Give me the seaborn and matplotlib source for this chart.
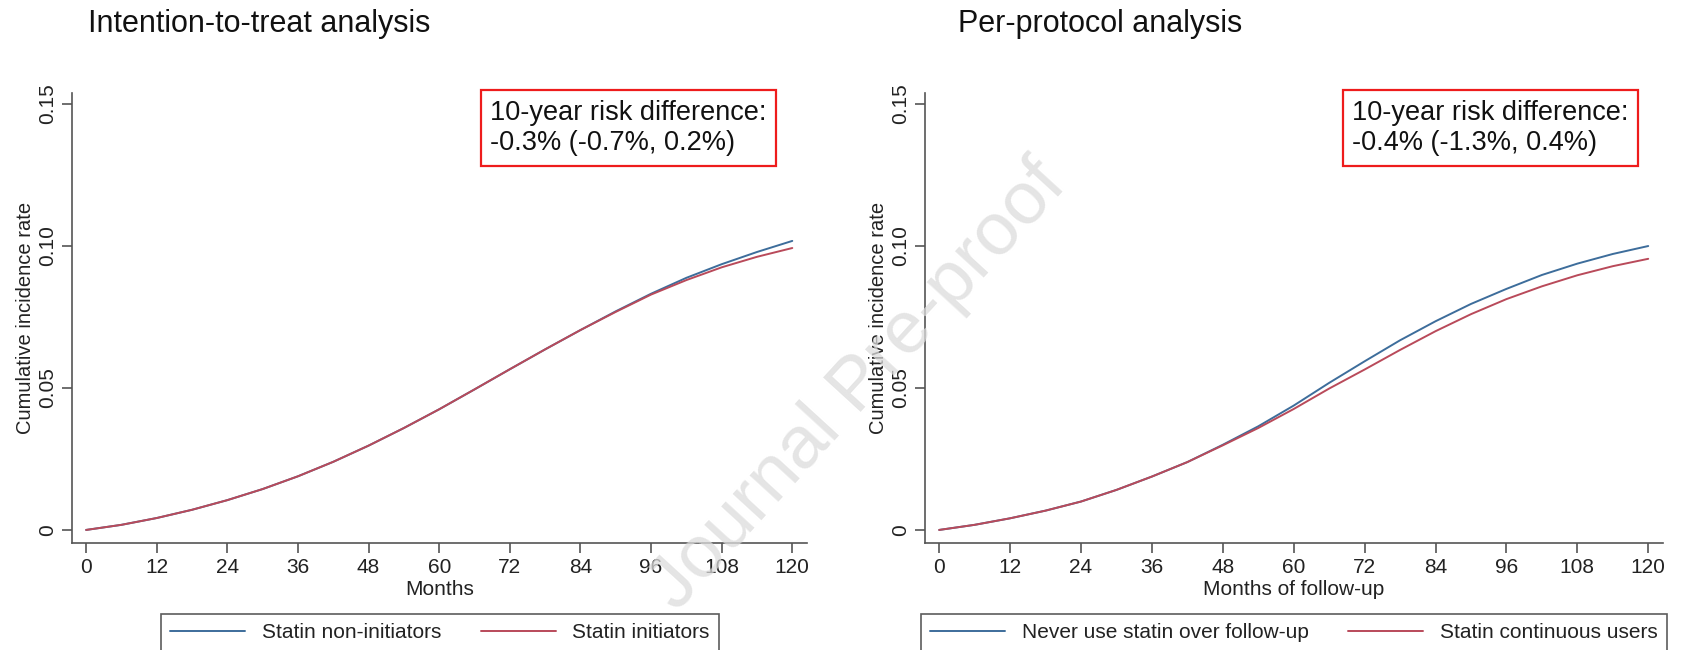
import numpy as np
import pandas as pd
import matplotlib
matplotlib.use("Agg")
import matplotlib.pyplot as plt
import seaborn as sns

# values (cumulative incidence by month)
months = [0, 6, 12, 18, 24, 30, 36, 42, 48, 54, 60, 66, 72, 78, 84, 90, 96, 102, 108, 114, 120]

itt_non = [0, .0018, .0042, .0071, .0105, .0144, .0189, .0240, .0297, .0359, .0425,
           .0495, .0566, .0636, .0704, .0770, .0832, .0888, .0936, .0979, .1018]
itt_init = [0, .0018, .0042, .0071, .0105, .0144, .0189, .0240, .0297, .0359, .0425,
            .0495, .0566, .0636, .0704, .0768, .0829, .0880, .0925, .0962, .0993]

pp_never = [0, .0018, .0041, .0068, .0100, .0141, .0188, .0239, .0300, .0365, .0438,
            .0518, .0594, .0668, .0735, .0796, .0849, .0898, .0938, .0972, .1000]
pp_cont = [0, .0018, .0041, .0068, .0100, .0141, .0188, .0239, .0298, .0359, .0426,
           .0498, .0565, .0634, .0700, .0760, .0813, .0858, .0897, .0929, .0955]

xticks = list(range(0, 121, 12))
yticks = [0, 0.05, 0.10, 0.15]
ytick_labels = ["0", "0.05", "0.10", "0.15"]

panels = [
    dict(title="Intention-to-treat analysis", xlabel="Months",
         names=["Statin non-initiators", "Statin initiators"],
         series=[itt_non, itt_init], rd="10-year risk difference:\n-0.3% (-0.7%, 0.2%)"),
    dict(title="Per-protocol analysis", xlabel="Months of follow-up",
         names=["Never use statin over follow-up", "Statin continuous users"],
         series=[pp_never, pp_cont], rd="10-year risk difference:\n-0.4% (-1.3%, 0.4%)"),
]

sns.set_theme(style="ticks")
plt.rcParams['font.family'] = ['Liberation Sans', 'DejaVu Sans']

W, H = 1683, 650
fig = plt.figure(figsize=(W / 100, H / 100), dpi=100)

colors = ["#3d6d9b", "#b94a5a"]
ax_px = [(72, 807), (925, 1663)]
title_x = [88, 958]
box_x = [490, 1352]
leg_cx = [440, 1294]

for i, p in enumerate(panels):
    x0, x1 = ax_px[i]
    ax = fig.add_axes([x0 / W, (H - 543) / H, (x1 - x0) / W, 450 / H])
    df = pd.DataFrame({
        "month": months * 2,
        "value": p["series"][0] + p["series"][1],
        "group": [p["names"][0]] * len(months) + [p["names"][1]] * len(months),
    })
    sns.lineplot(data=df, x="month", y="value", hue="group", hue_order=p["names"],
                 palette=colors, linewidth=1.4, ax=ax, legend=True)
    ax.set_xlim(-2.4, 122.5)
    ax.set_ylim(-0.0046, 0.1539)
    ax.set_xticks(xticks)
    ax.set_yticks(yticks)
    ax.set_yticklabels(ytick_labels)
    plt.setp(ax.get_yticklabels(), rotation=90, va="center")
    ax.tick_params(axis="both", labelsize=15, length=7, width=1.2, color="#555555",
                   pad=4, labelcolor="#222222")
    for s in ["top", "right"]:
        ax.spines[s].set_visible(False)
    for s in ["left", "bottom"]:
        ax.spines[s].set_color("#555555")
        ax.spines[s].set_linewidth(1.2)
    ax.set_xlabel(p["xlabel"], fontsize=15, color="#222222", labelpad=2)
    ax.set_ylabel("Cumulative incidence rate", fontsize=14.5, color="#222222", labelpad=2)

    ax.get_legend().remove()
    handles, labels = ax.get_legend_handles_labels()
    leg = ax.legend(handles, labels, loc="upper center", ncol=2,
                    bbox_to_anchor=(leg_cx[i] / W, 1 - 614 / H), bbox_transform=fig.transFigure,
                    fontsize=15, frameon=True, fancybox=False, handlelength=3.6,
                    handletextpad=0.8, columnspacing=1.9, borderpad=0.45, borderaxespad=0)
    leg.get_frame().set_edgecolor("#333333")
    leg.get_frame().set_linewidth(1.2)
    for t in leg.get_texts():
        t.set_color("#222222")

    fig.text(title_x[i] / W, 1 - 24 / H, p["title"], fontsize=22, ha="left", va="center",
             color="#111111")
    fig.text(box_x[i] / W, 1 - 128 / H, p["rd"], fontsize=19.5, ha="left", va="center",
             linespacing=1.25, color="#111111",
             bbox=dict(boxstyle="square,pad=0.35", fc="white", ec="#ee1c1c", lw=1.6))

fig.text(858 / W, 1 - 386 / H, "Journal Pre-proof", fontsize=54, rotation=47.5,
         ha="center", va="center", color="#dcdcdc", alpha=0.75, zorder=10)

fig.savefig("out.png", dpi=100)
